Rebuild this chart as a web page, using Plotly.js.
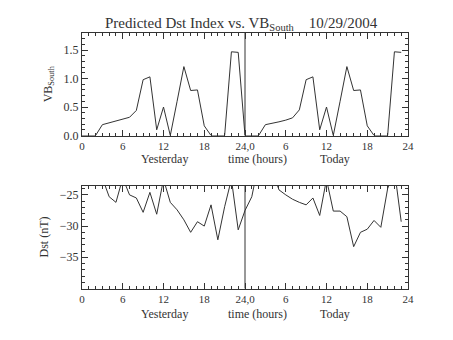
<!DOCTYPE html>
<html><head><meta charset="utf-8">
<script src="https://cdn.plot.ly/plotly-3.0.1.min.js"></script>
<style>html,body{margin:0;padding:0;background:#fff;}#chart{width:453px;height:340px;}</style>
</head><body><div id="chart"></div>
<script>
// Hours 0..23 for yesterday, 24..47 for today
const hoursYesterday = [0,1,2,3,4,5,6,7,8,9,10,11,12,13,14,15,16,17,18,19,20,21,22,23];
const hoursToday = [24,25,26,27,28,29,30,31,32,33,34,35,36,37,38,39,40,41,42,43,44,45,46,47];
const vbYesterday = [0,0,0,0.19,0.22,0.25,0.28,0.32,0.44,0.98,1.03,0.10,0.50,0,0.60,1.21,0.79,0.80,0.17,0,0,0,1.47,1.46];
const vbToday = [0,0,0,0.19,0.21,0.24,0.27,0.31,0.45,0.98,1.03,0.10,0.50,0,0.60,1.21,0.79,0.80,0.17,0,0,0,1.47,1.46];
const dstYesterday = [-21,-20,-21,-22.3,-25.3,-26.2,-22.3,-25.0,-25.5,-27.8,-24.6,-28.1,-22.5,-26.2,-27.4,-29.0,-31.0,-29.3,-30.0,-26.6,-32.2,-26.9,-22.5,-30.6];
const dstToday = [-27.5,-25.3,-20,-20,-21,-24.2,-25.0,-25.7,-26.2,-26.6,-25.5,-28.3,-22.5,-27.6,-27.6,-28.5,-33.3,-31.0,-30.5,-29.1,-30.2,-24.0,-21,-29.3];
const xTickVals = [0,6,12,18,24,30,36,42,48];
const xTickText = ['0','6','12','18','24,0','6','12','18','24'];

const hours = hoursYesterday.concat(hoursToday);
const vb = vbYesterday.concat(vbToday);
const dst = dstYesterday.concat(dstToday);

const FONT = 'Liberation Serif, DejaVu Serif, serif';
const C = '#333333';
const W = 453, H = 340;

function xax(anchor){
  return {
    domain:[82/W, 408/W], range:[0,48], anchor:anchor,
    tickmode:'array', tickvals:xTickVals, ticktext:xTickText,
    ticks:'inside', ticklen:6, tickcolor:C, tickwidth:1,
    minor:{tickmode:'linear', tick0:0, dtick:1, ticklen:3, tickcolor:C, ticks:'inside'},
    showline:true, linecolor:C, linewidth:1, mirror:'allticks',
    showgrid:false, zeroline:false,
    tickfont:{family:FONT, size:11, color:C}
  };
}

const data = [
  {x:hours, y:vb, xaxis:'x', yaxis:'y', mode:'lines', line:{color:C, width:1}, hoverinfo:'skip'},
  {x:hours, y:dst, xaxis:'x2', yaxis:'y2', mode:'lines', line:{color:C, width:1}, hoverinfo:'skip'}
];

const layout = {
  width:W, height:H, margin:{l:0,r:0,t:0,b:0},
  paper_bgcolor:'#fff', plot_bgcolor:'#fff', showlegend:false,
  font:{family:FONT, color:C},
  xaxis:xax('y'),
  xaxis2:xax('y2'),
  yaxis:{
    domain:[1-135.5/H, 1-33/H], range:[0,1.8], anchor:'x',
    tickvals:[0,0.5,1.0,1.5], ticktext:['0.0','0.5','1.0','1.5'], tickmode:'array',
    ticks:'inside', ticklen:6, tickcolor:C,
    minor:{tickmode:'linear', tick0:0, dtick:0.1, ticklen:3, tickcolor:C, ticks:'inside'},
    showline:true, linecolor:C, mirror:'allticks', showgrid:false, zeroline:false,
    tickfont:{family:FONT, size:12, color:C},
    title:{text:'VB<sub>South</sub>', font:{family:FONT, size:12, color:C}, standoff:8}
  },
  yaxis2:{
    domain:[1-288.5/H, 1-185.5/H], range:[-40,-23.5], anchor:'x2',
    tickmode:'array', tickvals:[-25,-30,-35], ticktext:['\u221225','\u221230','\u221235'],
    ticks:'inside', ticklen:6, tickcolor:C,
    minor:{tickmode:'linear', tick0:-40, dtick:1, ticklen:3, tickcolor:C, ticks:'inside'},
    showline:true, linecolor:C, mirror:'allticks', showgrid:false, zeroline:false,
    tickfont:{family:FONT, size:12, color:C},
    title:{text:'Dst (nT)', font:{family:FONT, size:12, color:C}, standoff:8}
  },
  shapes:[
    {type:'line', xref:'x', yref:'y domain', x0:24, x1:24, y0:0, y1:1, line:{color:C, width:1}},
    {type:'line', xref:'x2', yref:'y2 domain', x0:24, x1:24, y0:0, y1:1, line:{color:C, width:1}}
  ],
  annotations:[
    {text:'Predicted Dst Index vs. VB<sub>South</sub>    10/29/2004', xref:'paper', yref:'paper',
     x:242/W, y:1-24/H, xanchor:'center', yanchor:'middle', showarrow:false,
     font:{family:FONT, size:15, color:C}},
    {text:'Yesterday', xref:'x', yref:'paper', x:12.2, y:1-159/H, xanchor:'center', yanchor:'middle', showarrow:false, font:{family:FONT, size:12, color:C}},
    {text:'time (hours)', xref:'x', yref:'paper', x:25.9, y:1-159/H, xanchor:'center', yanchor:'middle', showarrow:false, font:{family:FONT, size:12, color:C}},
    {text:'Today', xref:'x', yref:'paper', x:37.3, y:1-159/H, xanchor:'center', yanchor:'middle', showarrow:false, font:{family:FONT, size:12, color:C}},
    {text:'Yesterday', xref:'x2', yref:'paper', x:12.2, y:1-314/H, xanchor:'center', yanchor:'middle', showarrow:false, font:{family:FONT, size:12, color:C}},
    {text:'time (hours)', xref:'x2', yref:'paper', x:25.9, y:1-314/H, xanchor:'center', yanchor:'middle', showarrow:false, font:{family:FONT, size:12, color:C}},
    {text:'Today', xref:'x2', yref:'paper', x:37.3, y:1-314/H, xanchor:'center', yanchor:'middle', showarrow:false, font:{family:FONT, size:12, color:C}}
  ]
};

Plotly.newPlot('chart', data, layout, {staticPlot:true, displayModeBar:false});
</script></body></html>
